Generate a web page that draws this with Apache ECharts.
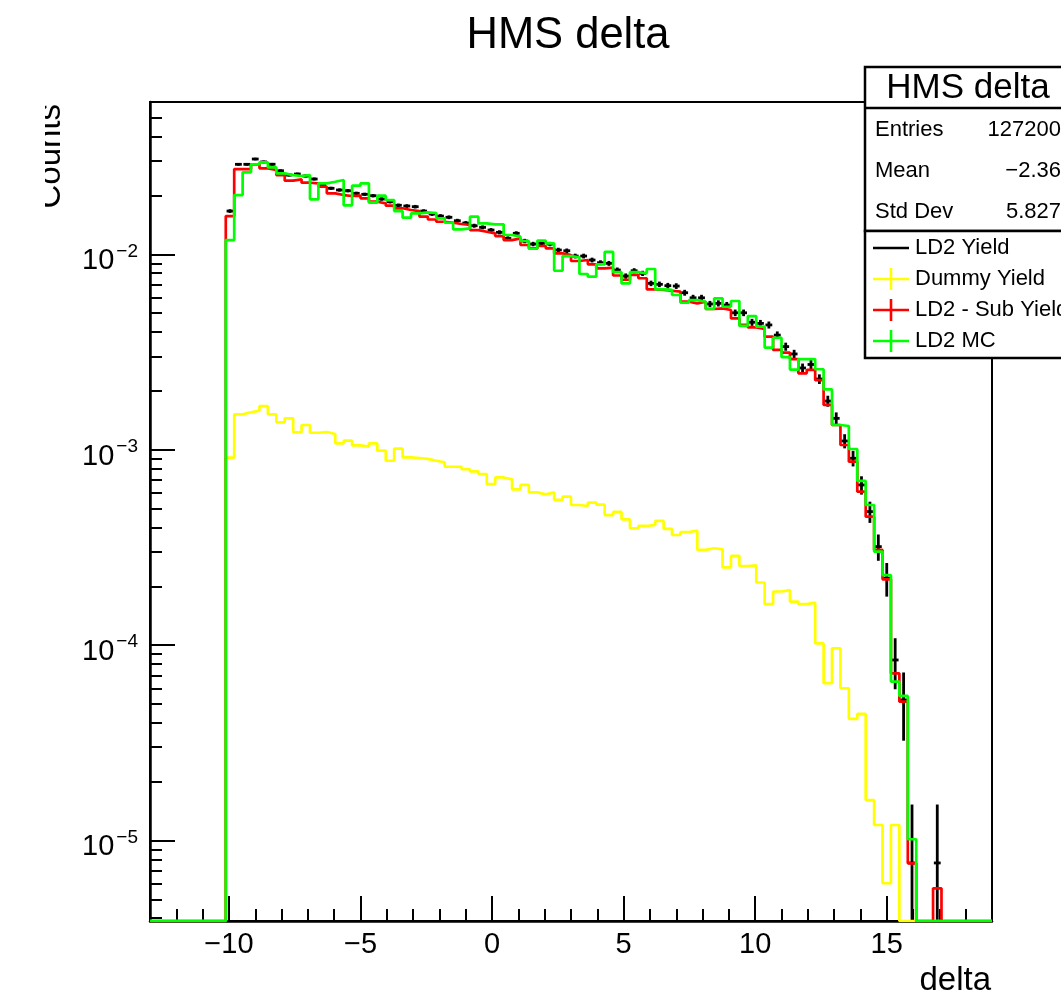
<!DOCTYPE html>
<html><head><meta charset="utf-8">
<script src="https://cdn.jsdelivr.net/npm/echarts@6/dist/echarts.min.js"></script>
<style>html,body{margin:0;padding:0;background:#fff}#c{width:1061px;height:997px}</style>
</head><body><div id="c"></div>
<script>
// ---- histogram binning (ROOT TH1: 100 bins from -13 to 19) ----
const xMin = -13, xMax = 19, nBins = 100;
const yMin = 3.87e-6, yMax = 0.0602;
const firstBin = 9; // first bin index of the value arrays below

// LD2 Yield (bins 9..93)
const ld2Yield = [0.01665,0.02888,0.02888,0.03074,0.0297,0.0289,0.02678,0.02545,0.02576,0.02516,
0.02429,0.02263,0.02177,0.02134,0.02116,0.02052,0.02028,0.01995,0.01919,0.01859,
0.01782,0.01767,0.01753,0.01665,0.01608,0.0157,0.01547,0.01486,0.01446,0.01401,
0.01374,0.01331,0.01296,0.01207,0.01281,0.0117,0.01129,0.01138,0.01129,0.01052,
0.01043,0.0098,0.0098,0.00935,0.00906,0.00899,0.00831,0.00774,0.00824,0.00799,
0.0071,0.00702,0.00691,0.00688,0.00636,0.00599,0.00599,0.00557,0.00561,0.0055,
0.00502,0.00502,0.00449,0.00443,0.00435,0.00386,0.00337,0.00309,0.00262,0.00273,
0.0023,0.001774,0.001447,0.001108,0.000904,0.00066,0.000482,0.000319,0.00022,8.39e-5,
5.24e-5,7.67e-6,0,0,7.67e-6];
// LD2 Yield errors (bins 9..93)
const ld2YieldErr = [3.6e-4,4.7e-4,4.7e-4,4.8e-4,4.8e-4,4.7e-4,4.5e-4,4.4e-4,4.4e-4,4.4e-4,
4.3e-4,4.2e-4,4.1e-4,4.0e-4,4.0e-4,3.95e-4,3.9e-4,3.9e-4,3.8e-4,3.8e-4,
3.7e-4,3.7e-4,3.65e-4,3.55e-4,3.5e-4,3.45e-4,3.4e-4,3.35e-4,3.3e-4,3.25e-4,
3.2e-4,3.2e-4,3.15e-4,3.0e-4,3.1e-4,3.0e-4,2.95e-4,2.95e-4,2.95e-4,2.85e-4,
2.8e-4,2.75e-4,2.75e-4,2.65e-4,2.6e-4,2.6e-4,2.5e-4,2.45e-4,2.5e-4,2.45e-4,
2.3e-4,2.3e-4,2.3e-4,2.3e-4,2.2e-4,2.15e-4,2.15e-4,2.05e-4,2.05e-4,2.05e-4,
1.95e-4,1.95e-4,1.85e-4,1.85e-4,1.8e-4,1.7e-4,1.6e-4,1.55e-4,1.4e-4,1.45e-4,
1.3e-4,1.15e-4,1.05e-4,9.2e-5,8.3e-5,7.1e-5,6.0e-5,4.9e-5,4.3e-5,2.45e-5,
2.0e-5,7.6e-6,0,0,7.6e-6];
// Dummy Yield (bins 9..88)
const dummyYield = [0.00091,0.001518,0.001554,0.001584,0.001674,0.001518,0.001381,0.001447,0.001227,0.001338,
0.001221,0.001231,0.001203,0.001078,0.001112,0.001053,0.001036,0.001078,0.000988,0.000878,
0.001012,0.000914,0.000907,0.000897,0.000878,0.000862,0.000818,0.000818,0.000794,0.000775,
0.000751,0.000666,0.000721,0.000705,0.000627,0.00066,0.000605,0.000591,0.000605,0.000553,
0.000575,0.000521,0.000515,0.000536,0.000523,0.000463,0.00048,0.00044,0.000396,0.000407,
0.000412,0.000432,0.000393,0.000366,0.000379,0.000385,0.000307,0.000313,0.000309,0.00025,
0.000286,0.000254,0.000256,0.000209,0.000162,0.000188,0.000191,0.000167,0.000162,0.000165,
0.000102,6.38e-5,9.63e-5,6.01e-5,4.19e-5,4.44e-5,1.61e-5,1.2e-5,6.04e-6,1.2e-5];
// LD2 - Sub Yield (bins 9..93)
const ld2SubYield = [0.0157,0.02732,0.02732,0.02888,0.02754,0.027,0.02545,0.02381,0.0242,0.02325,
0.02309,0.02218,0.02052,0.02011,0.01988,0.01995,0.01935,0.01859,0.01824,0.01773,
0.0172,0.01686,0.01665,0.01561,0.01507,0.01468,0.01451,0.01429,0.01413,0.01331,
0.01305,0.01281,0.0124,0.01183,0.01207,0.01116,0.01073,0.01103,0.01073,0.01012,
0.00992,0.00924,0.00935,0.00889,0.00848,0.00854,0.00779,0.00741,0.00784,0.00754,
0.00662,0.00657,0.00651,0.00644,0.00572,0.00561,0.00572,0.00525,0.00529,0.00519,
0.0047,0.00435,0.00423,0.00415,0.00379,0.00324,0.00314,0.00291,0.00246,0.00256,
0.00227,0.001694,0.001338,0.001057,0.000868,0.00061,0.000454,0.000307,0.000217,7.17e-5,
5.13e-5,7.64e-6,0,0,5.69e-6];
// LD2 MC (bins 9..90)
const ld2MC = [0.01183,0.02011,0.02629,0.02888,0.02957,0.02788,0.02597,0.02545,0.02516,0.02545,
0.01912,0.02309,0.02352,0.024,0.01782,0.02245,0.02309,0.01837,0.01995,0.01896,
0.01665,0.0154,0.01621,0.0164,0.01627,0.01528,0.01451,0.01342,0.01358,0.01558,
0.0144,0.01424,0.01424,0.01256,0.01231,0.0117,0.01068,0.01174,0.01138,0.00824,
0.0098,0.00965,0.00793,0.00768,0.00889,0.01028,0.0081,0.0071,0.0081,0.00799,
0.00841,0.00662,0.00657,0.00619,0.00565,0.00583,0.00572,0.00525,0.00595,0.00539,
0.00577,0.0043,0.00483,0.00426,0.00333,0.00374,0.00298,0.00257,0.00291,0.00291,
0.00258,0.002037,0.001338,0.001322,0.001008,0.000692,0.000521,0.000301,0.000228,6.5e-5,
5.49e-5,1.014e-5];

const xMajorTicks = [-10,-5,0,5,10,15];
const xMinorTicks = [-12,-11,-9,-8,-7,-6,-4,-3,-2,-1,1,2,3,4,6,7,8,9,11,12,13,14,16,17,18];
const yMajorTicks = [1e-5,1e-4,1e-3,1e-2];
const yMinorTicks = [4e-6,5e-6,6e-6,7e-6,8e-6,9e-6,2e-5,3e-5,4e-5,5e-5,6e-5,7e-5,8e-5,9e-5,
2e-4,3e-4,4e-4,5e-4,6e-4,7e-4,8e-4,9e-4,2e-3,3e-3,4e-3,5e-3,6e-3,7e-3,8e-3,9e-3,2e-2,3e-2,4e-2,5e-2];

const statsTitle = 'HMS delta';
const statsRows = [['Entries','127200'],['Mean','\u22122.36'],['Std Dev','5.827']];
const legendItems = ['LD2 Yield','Dummy Yield','LD2 - Sub Yield','LD2 MC'];

// ---- build ----
const FONT = 'Liberation Sans, Arial, Helvetica, sans-serif';
const bw = (xMax - xMin) / nBins;
const edge = k => xMin + k * bw;
function fullBins(arr) {
  const out = new Array(nBins).fill(0);
  arr.forEach((v, i) => { out[firstBin + i] = v; });
  return out;
}
function stepData(arr) {
  const b = fullBins(arr);
  const pts = b.map((v, k) => [edge(k), v > 0 ? v : yMin]);
  pts.push([edge(nBins), b[nBins - 1] > 0 ? b[nBins - 1] : yMin]);
  return pts;
}
const errData = [];
ld2Yield.forEach((v, i) => {
  if (v > 0) { const k = firstBin + i; errData.push([edge(k), edge(k + 1), v, ld2YieldErr[i]]); }
});

const chart = echarts.init(document.getElementById('c'), null, {renderer: 'canvas'});
const tickStyle = {color: '#000', width: 2};
function stepSeries(name, arr, color, z) {
  return {name, type: 'line', step: 'end', data: stepData(arr), symbol: 'none', showSymbol: false,
    lineStyle: {color, width: 2.7}, itemStyle: {color}, clip: true, z, silent: true, animation: false};
}
const option = {
  animation: false,
  grid: {left: 150, right: 69, top: 102, bottom: 76, show: true, borderColor: '#000', borderWidth: 2, backgroundColor: 'transparent'},
  xAxis: [
    {type: 'value', min: xMin, max: xMax, position: 'bottom',
     axisLine: {show: true, onZero: false, lineStyle: {color: '#000', width: 2.5}},
     axisTick: {show: true, inside: true, length: 25, lineStyle: tickStyle, customValues: xMajorTicks},
     axisLabel: {show: true, customValues: xMajorTicks, margin: 9, color: '#000', fontSize: 29, fontFamily: FONT,
       formatter: v => (v < 0 ? '\u2212' + Math.abs(v) : String(v))},
     splitLine: {show: false}},
    {type: 'value', min: xMin, max: xMax, position: 'bottom',
     axisLine: {show: false, onZero: false}, axisLabel: {show: false}, splitLine: {show: false},
     axisTick: {show: true, inside: true, length: 12, lineStyle: tickStyle, customValues: xMinorTicks}}
  ],
  yAxis: [
    {type: 'log', logBase: 10, min: yMin, max: yMax, position: 'left',
     axisLine: {show: true, onZero: false, lineStyle: {color: '#000', width: 2.5}},
     axisTick: {show: true, inside: true, length: 25, lineStyle: tickStyle, customValues: yMajorTicks},
     axisLabel: {show: true, customValues: yMajorTicks, margin: 12, color: '#000',
       formatter: v => '{b|10}{e|\u2212' + Math.abs(Math.round(Math.log10(v))) + '}',
       rich: {b: {fontSize: 29, fontFamily: FONT, color: '#000', padding: [14, 0, 0, 0]},
              e: {fontSize: 19, fontFamily: FONT, color: '#000', verticalAlign: 'top', padding: [9, 0, 0, 2]}}},
     splitLine: {show: false}},
    {type: 'log', logBase: 10, min: yMin, max: yMax, position: 'left',
     axisLine: {show: false, onZero: false}, axisLabel: {show: false}, splitLine: {show: false},
     axisTick: {show: true, inside: true, length: 12, lineStyle: tickStyle, customValues: yMinorTicks}}
  ],
  series: [
    {name: 'LD2 Yield', type: 'custom', data: errData, encode: {x: [0, 1], y: 2}, clip: true, z: 2, silent: true,
     renderItem: function (params, api) {
       const x0 = api.value(0), x1 = api.value(1), v = api.value(2), e = api.value(3);
       const pL = api.coord([x0, v]), pR = api.coord([x1, v]);
       const xc = (x0 + x1) / 2;
       const lo = v - e > yMin ? v - e : yMin;
       const pT = api.coord([xc, v + e]), pB = api.coord([xc, lo]);
       const st = {stroke: '#000', lineWidth: 2.8};
       return {type: 'group', children: [
         {type: 'line', shape: {x1: pL[0] + 0.8, y1: pL[1], x2: pR[0] - 0.8, y2: pR[1]}, style: st},
         {type: 'line', shape: {x1: pT[0], y1: pT[1], x2: pB[0], y2: pB[1]}, style: st}
       ]};
     }},
    stepSeries('Dummy Yield', dummyYield, '#ffff00', 3),
    stepSeries('LD2 - Sub Yield', ld2SubYield, '#ff0000', 4),
    stepSeries('LD2 MC', ld2MC, '#00ff00', 5)
  ],
  graphic: {elements: []}
};

const G = option.graphic.elements;
// title
G.push({type: 'text', x: 568, y: 36, z: 50, style: {text: 'HMS delta', fontSize: 43.5, fontFamily: FONT, fill: '#000', align: 'center', verticalAlign: 'middle'}});
// axis titles
G.push({type: 'text', x: 991, y: 981, z: 50, style: {text: 'delta', fontSize: 33, fontFamily: FONT, fill: '#000', align: 'right', verticalAlign: 'middle'}});
G.push({type: 'text', x: 51, y: 104, rotation: Math.PI / 2, z: 50, style: {text: 'Counts', fontSize: 33, fontFamily: FONT, fill: '#000', align: 'right', verticalAlign: 'middle'}});
G.push({type: 'rect', shape: {x: 0, y: 90, width: 45, height: 130}, z: 51, style: {fill: '#fff'}});
// stats box
G.push({type: 'rect', shape: {x: 865, y: 67, width: 220, height: 164}, z: 60, style: {fill: '#fff', stroke: '#000', lineWidth: 2.5}});
G.push({type: 'line', shape: {x1: 865, y1: 108, x2: 1085, y2: 108}, z: 61, style: {stroke: '#000', lineWidth: 2.5}});
G.push({type: 'text', x: 968, y: 88, z: 62, style: {text: statsTitle, fontSize: 35, fontFamily: FONT, fill: '#000', align: 'center', verticalAlign: 'middle'}});
statsRows.forEach((r, i) => {
  const y = 130 + i * 41;
  G.push({type: 'text', x: 875, y, z: 62, style: {text: r[0], fontSize: 22, fontFamily: FONT, fill: '#000', align: 'left', verticalAlign: 'middle'}});
  G.push({type: 'text', x: 1061, y, z: 62, style: {text: r[1], fontSize: 22, fontFamily: FONT, fill: '#000', align: 'right', verticalAlign: 'middle'}});
});
// legend box
G.push({type: 'rect', shape: {x: 865, y: 231, width: 220, height: 127}, z: 60, style: {fill: '#fff', stroke: '#000', lineWidth: 2.5}});
const legColors = ['#000', '#ffff00', '#ff0000', '#00ff00'];
legendItems.forEach((t, i) => {
  const y = 248 + i * 31;
  G.push({type: 'line', shape: {x1: 873, y1: y, x2: 909, y2: y}, z: 62, style: {stroke: legColors[i], lineWidth: 2.6}});
  if (i > 0) G.push({type: 'line', shape: {x1: 891, y1: y - 11, x2: 891, y2: y + 11}, z: 62, style: {stroke: legColors[i], lineWidth: 2.6}});
  G.push({type: 'text', x: 915, y, z: 62, style: {text: t, fontSize: 22, fontFamily: FONT, fill: '#000', align: 'left', verticalAlign: 'middle'}});
});

chart.setOption(option);
</script>
</body></html>
